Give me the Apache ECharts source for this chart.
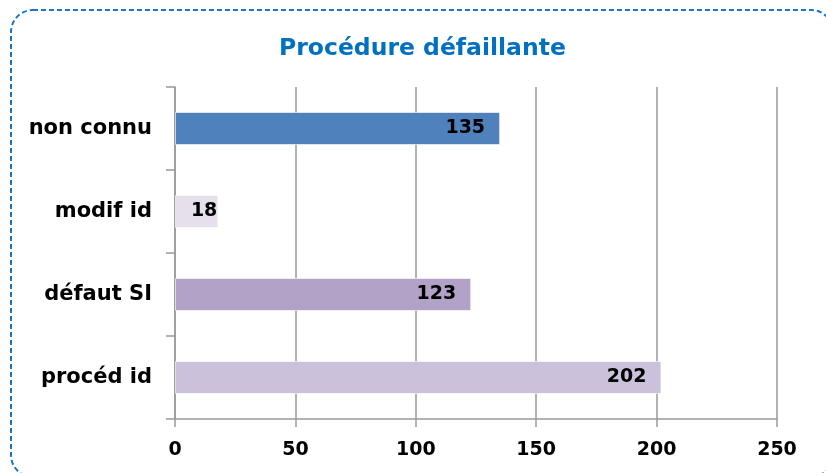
<!DOCTYPE html>
<html>
<head>
<meta charset="utf-8">
<script src="https://cdn.jsdelivr.net/npm/echarts@6/dist/echarts.min.js"></script>
<style>
  html, body { margin: 0; padding: 0; background: #ffffff; }
  #chart { width: 826px; height: 473px; }
</style>
</head>
<body>
<div id="chart"></div>
<script>
// Failing procedures, counted by cause
const categories = ['non connu', 'modif id', 'défaut SI', 'procéd id'];
const counts = [135, 18, 123, 202];
const barColors = ['#4f81bd', '#e6e0ec', '#b3a2c7', '#ccc1da'];
const xTicks = [0, 50, 100, 150, 200, 250];

const FONT = 'DejaVu Sans';
const chart = echarts.init(document.getElementById('chart'));

chart.setOption({
  backgroundColor: '#ffffff',
  animation: false,
  title: {
    text: 'Procédure défaillante',
    left: 274,
    top: 32,
    textStyle: { color: '#0070c0', fontFamily: FONT, fontWeight: 'bold', fontSize: 23.5 }
  },
  graphic: [{
    type: 'rect',
    shape: { x: 11, y: 10, width: 822, height: 467, r: 22 },
    style: { fill: 'none', stroke: '#1a75c9', lineWidth: 2, lineDash: [5, 3] },
    silent: true
  }],
  grid: { left: 175, right: 49, top: 87, bottom: 54, containLabel: false },
  xAxis: {
    type: 'value',
    min: xTicks[0],
    max: xTicks[xTicks.length - 1],
    interval: xTicks[1] - xTicks[0],
    axisLine: { show: true, lineStyle: { color: '#999999', width: 1.5 } },
    axisTick: { show: true, length: 8, lineStyle: { color: '#999999', width: 1.5 } },
    splitLine: { show: true, lineStyle: { color: '#999999', width: 1.5 } },
    axisLabel: { color: '#000000', fontFamily: FONT, fontWeight: 'bold', fontSize: 19, margin: 22 }
  },
  yAxis: {
    type: 'category',
    data: categories,
    inverse: true,
    axisLine: { show: true, lineStyle: { color: '#999999', width: 1.5 } },
    axisTick: { show: true, length: 9, alignWithLabel: false, lineStyle: { color: '#999999', width: 1.5 } },
    axisLabel: { color: '#000000', fontFamily: FONT, fontWeight: 'bold', fontSize: 21, margin: 23 }
  },
  series: [{
    type: 'bar',
    barWidth: 33,
    data: counts.map((v, i) => ({
      value: v,
      itemStyle: { color: barColors[i], borderColor: 'rgba(255,255,255,0.6)', borderWidth: 1 },
      label: v < 30 ? { distance: 1 } : {}
    })),
    label: {
      show: true,
      position: 'insideRight',
      distance: 15,
      color: '#000000',
      fontFamily: FONT,
      fontWeight: 'bold',
      fontSize: 19
    }
  }]
});
</script>
</body>
</html>
